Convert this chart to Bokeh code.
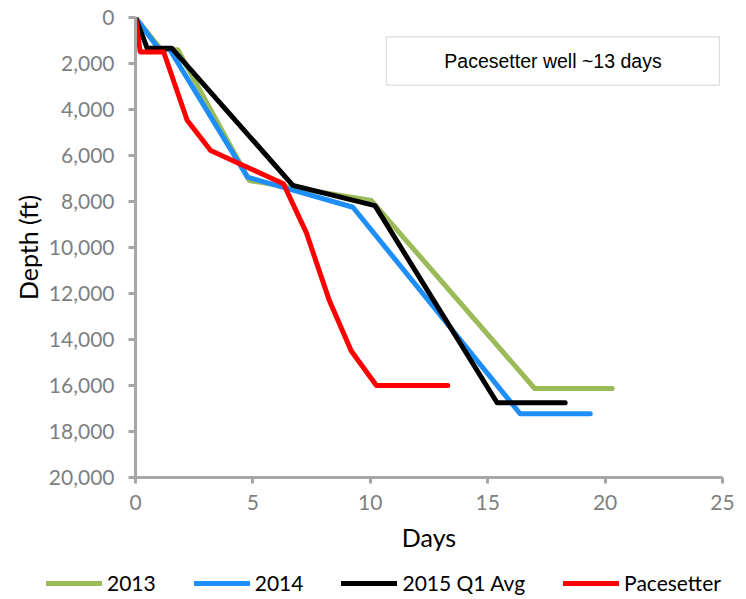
from bokeh.plotting import figure
from bokeh.layouts import column
from bokeh.models import (Range1d, Legend, LegendItem, BoxAnnotation, Label,
                          FixedTicker, NumeralTickFormatter)
from bokeh.embed import file_html
from bokeh.resources import INLINE

# Drilling curves: days vs. measured depth (ft)
days_2013 = [0, 1.1, 1.8, 4.85, 10.05, 17.0, 20.3]
depth_2013 = [0, 1400, 1400, 7090, 7960, 16130, 16130]

days_2014 = [0, 1.0, 1.45, 4.77, 9.26, 16.38, 19.37]
depth_2014 = [0, 1380, 1380, 6940, 8250, 17230, 17230]

days_2015 = [0, 0.5, 1.55, 6.7, 10.2, 15.4, 18.3]
depth_2015 = [0, 1340, 1340, 7300, 8180, 16750, 16750]

days_pace = [0, 0.2, 1.2, 2.2, 3.2, 6.3, 7.27, 8.26, 9.19, 10.26, 13.3]
depth_pace = [0, 1500, 1500, 4470, 5780, 7230, 9340, 12320, 14500, 16000, 16000]

series_names = ["2013", "2014", "2015 Q1 Avg", "Pacesetter"]
series_colors = ["#9BBB59", "#1E8EFA", "#000000", "#FF0000"]

x_ticks = [0, 5, 10, 15, 20, 25]
y_ticks = [0, 2000, 4000, 6000, 8000, 10000, 12000, 14000, 16000, 18000, 20000]

note_text = "Pacesetter well ~13 days"

LINE_W = 5

p = figure(width=746, height=560, output_backend="svg", toolbar_location=None,
           x_range=Range1d(0, 25), y_range=Range1d(20000, 0),
           min_border_left=135, min_border_right=24, min_border_top=17, min_border_bottom=83)
p.frame_align = False
p.outline_line_color = None
p.xgrid.grid_line_color = None
p.ygrid.grid_line_color = None

axis_grey = "#A6A6A6"
label_grey = "#7F7F7F"
for ax in (p.xaxis[0], p.yaxis[0]):
    ax.axis_line_color = axis_grey
    ax.axis_line_width = 3
    ax.major_tick_line_color = axis_grey
    ax.major_tick_line_width = 3
    ax.minor_tick_line_color = None
    ax.major_tick_in = 0
    ax.major_label_text_font = "Lato"
    ax.major_label_text_font_size = "21px"
    ax.major_label_text_color = label_grey
    ax.axis_label_text_font = "Lato"
    ax.axis_label_text_font_style = "normal"
    ax.axis_label_text_color = "#000000"
    ax.axis_label_text_font_size = "25px"

p.xaxis[0].ticker = FixedTicker(ticks=x_ticks)
p.yaxis[0].ticker = FixedTicker(ticks=y_ticks)
p.yaxis[0].formatter = NumeralTickFormatter(format="0,0")
p.xaxis[0].major_tick_out = 6
p.yaxis[0].major_tick_out = 7
p.xaxis[0].major_label_standoff = 11
p.yaxis[0].major_label_standoff = 14
p.xaxis[0].axis_label = "Days"
p.yaxis[0].axis_label = "Depth (ft)"
p.xaxis[0].axis_label_standoff = 9
p.yaxis[0].axis_label_standoff = 3

all_days = [days_2013, days_2014, days_2015, days_pace]
all_depth = [depth_2013, depth_2014, depth_2015, depth_pace]
for color, xs, ys in zip(series_colors, all_days, all_depth):
    p.line(xs, ys, line_color=color, line_width=LINE_W, line_join="round", line_cap="round")

box = BoxAnnotation(left=10.68, right=24.87, top=840, bottom=2940,
                    fill_color="white", fill_alpha=1.0,
                    line_color="#8C8C8C", line_width=1.2)
p.add_layout(box)
p.add_layout(Label(x=17.78, y=1890, text=note_text, text_align="center",
                   text_baseline="middle", text_font="Liberation Sans",
                   text_font_size="19.5px", text_color="#000000"))

# Legend strip underneath the chart (no axes, frame spans the full width)
leg = figure(width=746, height=39, output_backend="svg", toolbar_location=None,
             x_range=Range1d(0, 1), y_range=Range1d(0, 1),
             x_axis_location=None, y_axis_location=None,
             min_border_left=0, min_border_right=0, min_border_top=0, min_border_bottom=0)
leg.frame_align = False
leg.grid.visible = False
leg.outline_line_color = None

nan = float("nan")
items = []
for name, color in zip(series_names, series_colors):
    r = leg.line([nan], [nan], line_color=color, line_width=LINE_W, line_cap="round")
    items.append(LegendItem(label=name, renderers=[r]))

legend = Legend(items=items, orientation="horizontal", location=(46, 4),
                glyph_width=56, glyph_height=20, label_height=20, label_standoff=5,
                spacing=38, padding=0, margin=0, border_line_color=None,
                background_fill_alpha=0, label_text_font="Lato",
                label_text_font_size="21px", label_text_color="#000000")
leg.add_layout(legend)

layout = column(p, leg, spacing=0)
open("out.html", "w").write(file_html(layout, INLINE))
